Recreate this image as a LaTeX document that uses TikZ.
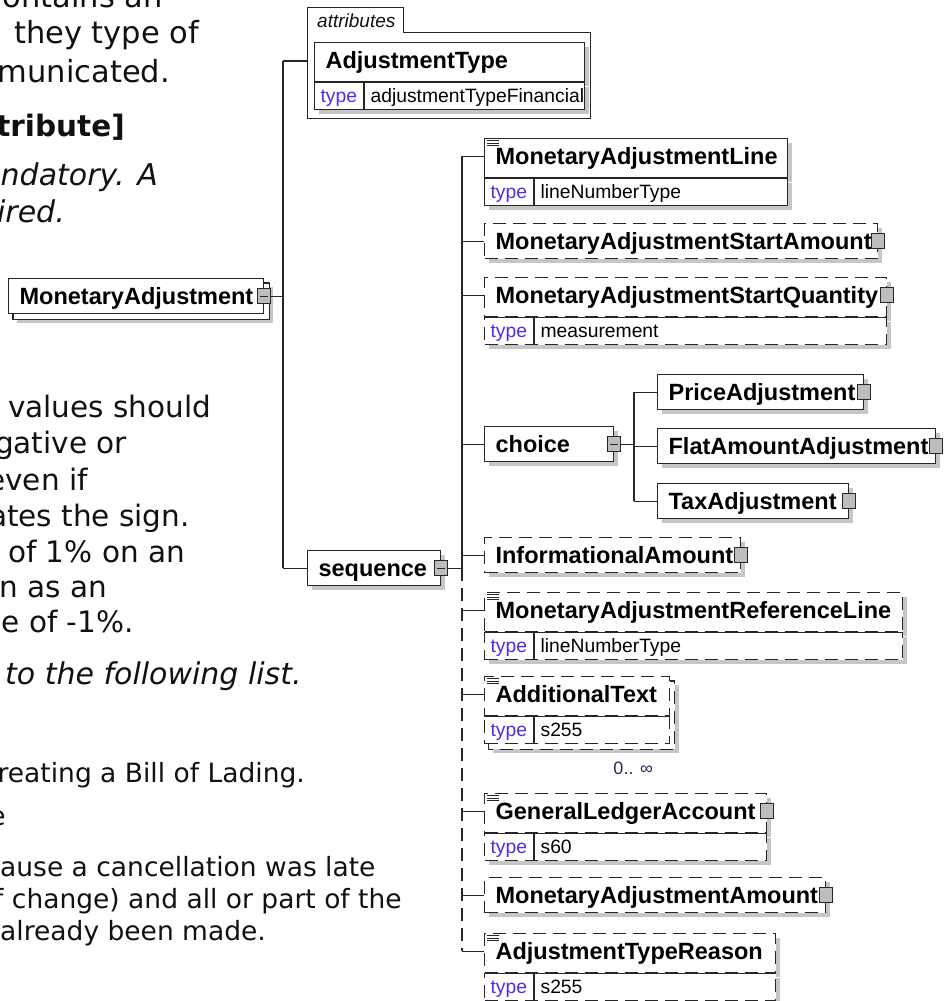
\documentclass[tikz,border=0pt]{standalone}
\usepackage{fontspec}
\usetikzlibrary{positioning,calc,shadows,backgrounds}
\newfontfamily\schemafont{Liberation Sans}
\newfontfamily\pagefont{DejaVu Sans}[BoldFont={DejaVu Sans Bold},ItalicFont={DejaVu Sans Oblique}]
\definecolor{cBd}{HTML}{262626}
\definecolor{cSh}{HTML}{C6C6C6}
\definecolor{cBtn}{HTML}{BDBDBD}
\definecolor{cType}{HTML}{4B2CF2}
\definecolor{cOcc}{HTML}{1F2A5C}
\definecolor{cTxt}{HTML}{111111}
\newcommand{\typerow}[1]{\makebox[50pt][l]{\color{cType}type}#1}
\tikzset{
  ebox/.style={draw=cBd,fill=white,line width=1.2pt,anchor=north west,
    inner xsep=11pt,inner ysep=0pt,text height=26pt,text depth=9pt,align=left,
    font=\schemafont\bfseries\fontsize{23.5}{26}\selectfont},
  hbox/.style={ebox,text depth=13pt},
  tbox/.style={ebox,inner xsep=6pt,text height=20pt,text depth=7pt,
    font=\schemafont\fontsize{19.3}{22}\selectfont},
  sdw/.style={drop shadow={fill=cSh,opacity=1,shadow xshift=4pt,shadow yshift=-4pt}},
  opt/.style={dash pattern=on 13pt off 7pt},
  btn/.style={draw=cBd,fill=cBtn,line width=1pt,minimum width=13pt,
    minimum height=15pt,inner sep=0pt},
  minus/.style={path picture={\draw[cBd,line width=1pt]
    ([xshift=-4pt]path picture bounding box.center) --
    ([xshift=4pt]path picture bounding box.center);}},
  wire/.style={draw=cBd,line width=1.2pt},
  tab/.style={anchor=north west,inner xsep=10pt,inner ysep=0pt,text height=20pt,
    text depth=5pt,text=cTxt,font=\schemafont\itshape\fontsize{19}{21}\selectfont},
  occ/.style={inner sep=0pt,text=cOcc,font=\schemafont\fontsize{18}{20}\selectfont},
  ptext/.style={anchor=base west,inner sep=0pt,text=cTxt,
    font=\pagefont\fontsize{29.5}{35}\selectfont},
  ptop/.style={ptext,font=\pagefont\fontsize{30.5}{36}\selectfont},
  pbold/.style={ptext,font=\pagefont\bfseries\fontsize{29.5}{35}\selectfont},
  pital/.style={ptext,font=\pagefont\itshape\fontsize{30}{35}\selectfont},
  psmall/.style={ptext,font=\pagefont\fontsize{26.5}{31}\selectfont},
  rend/.style={anchor=base east},
}
\newcommand{\annot}[1]{\draw[cBd,line width=0.8pt]
  \foreach \k in {0,1,2}{([shift={(3,2.5+2.6*\k)}]#1.north west) -- ++(12,0)};}
\newcommand{\typegrid}[1]{\draw[wire] (#1T.north west) -- (#1T.north east)
  ([xshift=50pt]#1T.north west) -- ([xshift=50pt]#1T.south west);}

\begin{document}
\begin{tikzpicture}[x=1pt,y=-1pt]
\useasboundingbox (0,0) rectangle (949,1001);

% page text, cut off at the left
\node[ptop,rend] (t1) at (163,7) {ontains an};
\node[ptop] (t2) at (14,43) {they type of};
\node[ptop,rend] (t3) at (170,82) {municated.};
\node[pbold,rend] (t4) at (125,136) {tribute]};
\node[pital,rend] (t5) at (158,185) {ndatory. A};
\node[pital,rend] (t6) at (65,222) {ired.};
\node[ptext] (t7) at (8,417) {values should};
\node[ptext,rend] (t8) at (127,453) {gative or};
\node[ptext,rend] (t9) at (88,490) {even if};
\node[ptext,rend] (t10) at (190,526) {ates the sign.};
\node[ptext] (t11) at (8,562) {of 1\% on an};
\node[ptext,rend] (t12) at (107,597) {n as an};
\node[ptext,rend] (t13) at (134,632) {e of -1\%.};
\node[pital] (t14) at (5,684) {to the following list.};
\node[psmall,rend] (t15) at (305,782) {reating a Bill of Lading.};
\node[psmall,rend] (t16) at (6,825) {e};
\node[psmall] (t17) at (0,876) {ause a cancellation was late};
\node[psmall] (t18) at (-6,908) {f change) and all or part of the};
\node[psmall] (t19) at (0,940) {already been made.};

\coordinate (rbus) at (283,0);
\coordinate (sbus) at (462,0);
\coordinate (cbus) at (634,0);

% attributes
\draw[cBd,line width=1pt] (403,32) -- (590,32) -- (590,118) -- (307,118)
  -- (307,7) -- (403,7) -- cycle;
\node[tab] (attrtab) at (307,7) {attributes};
\coordinate (attrIn) at (307,61);
\node[hbox,sdw,text width=248pt] (adj) at (314,42) {AdjustmentType};
\node[tbox,sdw,text width=258pt] (adjT) at (adj.south west) {\typerow{adjustmentTypeFinancial}};
\typegrid{adj}

% root and sequence
\node[ebox,text width=233pt] (root) at (8,278) {MonetaryAdjustment};
\begin{scope}[on background layer]
  \draw[wire,fill=white,sdw] ($(root.north west)+(5,5)$) rectangle ($(root.south east)+(5,5)$);
\end{scope}
\node[btn,minus] (rootB) at (root.east) {};
\node[ebox,sdw,text width=111pt] (seq) at (307,550) {sequence};
\node[btn,minus] (seqB) at (seq.east) {};

\draw[wire] (attrIn -| rbus) -- (seq.west -| rbus);
\draw[wire] (attrIn -| rbus) -- (attrIn);
\draw[wire] (seq.west -| rbus) -- (seq.west);
\draw[wire] (rootB.east) -- (rootB.east -| rbus);

% children of sequence
\node[hbox,sdw,text width=281pt] (mal) at (484,138) {MonetaryAdjustmentLine};
\node[tbox,sdw,text width=291pt] (malT) at (mal.south west) {\typerow{lineNumberType}};
\typegrid{mal} \annot{mal}

\node[ebox,sdw,opt,text width=371pt] (masa) at (484,223) {MonetaryAdjustmentStartAmount};
\node[btn] (masaB) at (masa.east) {};

\node[hbox,sdw,opt,text width=380pt] (masq) at (484,277) {MonetaryAdjustmentStartQuantity};
\node[tbox,sdw,opt,text width=390pt] (masqT) at (masq.south west) {\typerow{measurement}};
\typegrid{masq}
\node[btn] (masqB) at ([yshift=2pt]masq.east) {};

\node[ebox,sdw,text width=107pt] (cho) at (484,426) {choice};
\node[btn,minus] (choB) at (cho.east) {};
\node[ebox,sdw,text width=184pt] (pri) at (657,374) {PriceAdjustment};
\node[ebox,sdw,text width=256pt] (fla) at (657,428) {FlatAmountAdjustment};
\node[ebox,sdw,text width=169pt] (tax) at (657,483) {TaxAdjustment};
\foreach \n in {pri,fla,tax} {\node[btn] (\n B) at (\n.east) {};}

\node[ebox,sdw,opt,text width=234pt] (inf) at (484,537) {InformationalAmount};
\node[btn] (infB) at (inf.east) {};

\node[hbox,sdw,opt,text width=396pt] (marl) at (484,592) {MonetaryAdjustmentReferenceLine};
\node[tbox,sdw,opt,text width=406pt] (marlT) at (marl.south west) {\typerow{lineNumberType}};
\typegrid{marl} \annot{marl}

\node[hbox,opt,text width=163pt] (atx) at (484,676) {AdditionalText};
\node[tbox,opt,text width=173pt] (atxT) at (atx.south west) {\typerow{s255}};
\begin{scope}[on background layer]
  \draw[wire,opt,fill=white,sdw] ($(atx.north west)+(4.5,5)$) rectangle ($(atxT.south east)+(4.5,5)$);
\end{scope}
\typegrid{atx} \annot{atx}
\node[occ,below left=17pt and 17pt of atxT.south east] (atxOcc) {0.. ∞};

\node[hbox,sdw,opt,text width=260pt] (gla) at (484,793) {GeneralLedgerAccount};
\node[tbox,sdw,opt,text width=270pt] (glaT) at (gla.south west) {\typerow{s60}};
\typegrid{gla} \annot{gla}
\node[btn] (glaB) at ([yshift=2pt]gla.east) {};

\node[ebox,sdw,opt,text width=319pt] (maa) at (484,877) {MonetaryAdjustmentAmount};
\node[btn] (maaB) at (maa.east) {};

\node[hbox,sdw,opt,text width=269pt] (atr) at (484,933) {AdjustmentTypeReason};
\node[tbox,sdw,opt,text width=279pt] (atrT) at (atr.south west) {\typerow{s255}};
\typegrid{atr} \annot{atr}

% sequence wiring
\foreach \n in {mal,masq,marl,atx,gla,atr} {\coordinate (\n In) at ([yshift=2pt]\n.west);}
\foreach \n in {masa,cho,inf,maa} {\coordinate (\n In) at (\n.west);}
\draw[wire] (malIn -| sbus) -- (seqB.east -| sbus);
\draw[wire,opt] (seqB.east -| sbus) -- (atrIn -| sbus);
\draw[wire] (seqB.east) -- (seqB.east -| sbus);
\foreach \n in {mal,masa,masq,cho,inf,marl,atx,gla,maa,atr} {\draw[wire] (\n In -| sbus) -- (\n In);}

% choice wiring
\draw[wire] (pri.west -| cbus) -- (tax.west -| cbus);
\draw[wire] (choB.east) -- (choB.east -| cbus);
\foreach \n in {pri,fla,tax} {\draw[wire] (\n.west -| cbus) -- (\n.west);}
\end{tikzpicture}
\end{document}
